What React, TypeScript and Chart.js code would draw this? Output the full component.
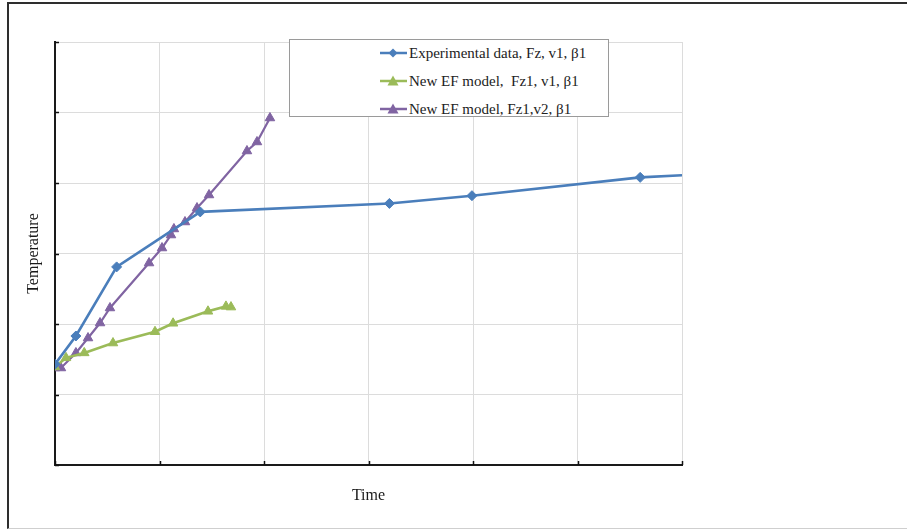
import React, { useEffect, useRef } from "react";
import { Chart, registerables } from "chart.js";

Chart.register(...registerables);

// ---- data (axis units are unlabeled grid divisions) ----
const expTime = [0, 0.2, 0.59, 1.39, 3.2, 3.99, 5.6, 6.0];
const expTemp = [1.43, 1.83, 2.81, 3.59, 3.71, 3.82, 4.08, 4.11];

const efV1Time = [0, 0.105, 0.28, 0.555, 0.957, 1.13, 1.464, 1.636, 1.684];
const efV1Temp = [1.39, 1.52, 1.59, 1.73, 1.89, 2.01, 2.18, 2.25, 2.24];

const efV2Time = [0, 0.057, 0.2, 0.316, 0.431, 0.526, 0.9, 1.024, 1.11, 1.138, 1.244, 1.359, 1.474, 1.837, 1.933, 2.057];
const efV2Temp = [1.376, 1.376, 1.589, 1.801, 2.014, 2.227, 2.865, 3.078, 3.262, 3.348, 3.447, 3.645, 3.83, 4.454, 4.582, 4.922];

const seriesLabels = [
  "Experimental data, Fz, v1, β1",
  "New EF model,  Fz1, v1, β1",
  "New EF model, Fz1,v2, β1",
];
const seriesColors = ["#4a7ebb", "#9bbb59", "#8064a2"];
const seriesMarkers = ["rectRot", "triangle", "triangle"];

const axisMin = 0;
const axisMax = 6;
const xTitle = "Time";
const yTitle = "Temperature";

const SERIF = "'Liberation Serif', 'Times New Roman', 'DejaVu Serif', serif";

const toPoints = (xs: number[], ys: number[]) => xs.map((x, i) => ({ x, y: ys[i] }));

const innerTicks = {
  id: "innerTicks",
  beforeDatasetsDraw(chart: any) {
    const { ctx, chartArea, scales } = chart;
    const x = scales.x;
    const y = scales.y;
    ctx.save();
    ctx.strokeStyle = "#111";
    ctx.lineWidth = 1.5;
    x.ticks.forEach((t: any) => {
      const px = Math.round(x.getPixelForValue(t.value)) + 0.5;
      ctx.beginPath();
      ctx.moveTo(px, chartArea.bottom);
      ctx.lineTo(px, chartArea.bottom - 4);
      ctx.stroke();
    });
    y.ticks.forEach((t: any) => {
      const py = Math.round(y.getPixelForValue(t.value)) + 0.5;
      ctx.beginPath();
      ctx.moveTo(chartArea.left, py);
      ctx.lineTo(chartArea.left + 4, py);
      ctx.stroke();
    });
    ctx.restore();
  },
};

function LegendMarker({ color, marker }: { color: string; marker: string }) {
  const shape =
    marker === "rectRot" ? (
      <polygon points="13,1.5 17.5,6 13,10.5 8.5,6" fill={color} />
    ) : (
      <polygon points="13,0.5 18.5,10.5 7.5,10.5" fill={color} />
    );
  return (
    <svg width={27} height={12} style={{ display: "block" }}>
      <line x1={0} y1={6} x2={27} y2={6} stroke={color} strokeWidth={2.5} />
      {shape}
    </svg>
  );
}

export default function App() {
  const canvasRef = useRef<HTMLCanvasElement | null>(null);

  useEffect(() => {
    const canvas = canvasRef.current;
    if (!canvas) return;
    const mk = (i: number, xs: number[], ys: number[], width: number, radii: number | number[]) => ({
      label: seriesLabels[i],
      data: toPoints(xs, ys),
      borderColor: seriesColors[i],
      backgroundColor: seriesColors[i],
      pointBackgroundColor: seriesColors[i],
      pointBorderColor: seriesColors[i],
      pointStyle: seriesMarkers[i],
      pointRadius: radii,
      pointBorderWidth: 1,
      borderWidth: width,
      tension: 0,
      fill: false,
    });
    const chart = new Chart(canvas, {
      type: "line",
      data: {
        datasets: [
          mk(0, expTime, expTemp, 2.6, expTime.map((_, i) => (i === expTime.length - 1 ? 0 : 5))),
          mk(1, efV1Time, efV1Temp, 2.6, 5.5),
          mk(2, efV2Time, efV2Temp, 2.2, 5.5),
        ] as any,
      },
      options: {
        responsive: false,
        animation: false,
        devicePixelRatio: 1,
        layout: { padding: { left: 20, top: 42, right: 225, bottom: 22 } },
        plugins: {
          legend: { display: false },
          tooltip: { enabled: false },
        },
        scales: {
          x: {
            type: "linear",
            min: axisMin,
            max: axisMax,
            ticks: { display: false, stepSize: 1 },
            grid: { color: "#dcdcdc", lineWidth: 1, drawTicks: false },
            border: { color: "#1a1a1a", width: 2 },
            title: {
              display: true,
              text: xTitle,
              color: "#1a1a1a",
              font: { family: SERIF, size: 16 },
              padding: 4,
            },
            afterFit: (s: any) => {
              s.height = 44;
            },
          },
          y: {
            type: "linear",
            min: axisMin,
            max: axisMax,
            ticks: { display: false, stepSize: 1 },
            grid: { color: "#dcdcdc", lineWidth: 1, drawTicks: false },
            border: { color: "#1a1a1a", width: 2 },
            title: {
              display: true,
              text: yTitle,
              color: "#1a1a1a",
              font: { family: SERIF, size: 16 },
              padding: 4,
            },
            afterFit: (s: any) => {
              s.width = 35;
            },
          },
        },
      } as any,
      plugins: [innerTicks],
    });
    return () => chart.destroy();
  }, []);

  const rowTops = [45, 73, 101];

  return (
    <div
      style={{
        position: "fixed",
        left: 0,
        top: 0,
        width: 907,
        height: 531,
        overflow: "hidden",
        background: "#fff",
      }}
    >
      <div
        style={{
          position: "absolute",
          left: 7,
          top: 2,
          width: 960,
          height: 527,
          borderTop: "2px solid #2e2e2e",
          borderLeft: "2px solid #2e2e2e",
          borderBottom: "1px solid #cfcfcf",
          boxSizing: "border-box",
        }}
      />
      <canvas
        ref={canvasRef}
        width={907}
        height={531}
        style={{ position: "absolute", left: 0, top: 0, display: "block" }}
      />
      <div
        style={{
          position: "absolute",
          left: 289,
          top: 39,
          width: 320,
          height: 78,
          boxSizing: "border-box",
          border: "1px solid #9a9a9a",
          background: "#fff",
        }}
      />
      {seriesLabels.map((label, i) => (
        <div
          key={label}
          style={{
            position: "absolute",
            left: 380,
            top: rowTops[i],
            height: 16,
            display: "flex",
            alignItems: "center",
            whiteSpace: "pre",
            fontFamily: SERIF,
            fontSize: 15,
            color: "#222",
            lineHeight: "16px",
          }}
        >
          <LegendMarker color={seriesColors[i]} marker={seriesMarkers[i]} />
          <span style={{ marginLeft: 2 }}>{label}</span>
        </div>
      ))}
    </div>
  );
}
